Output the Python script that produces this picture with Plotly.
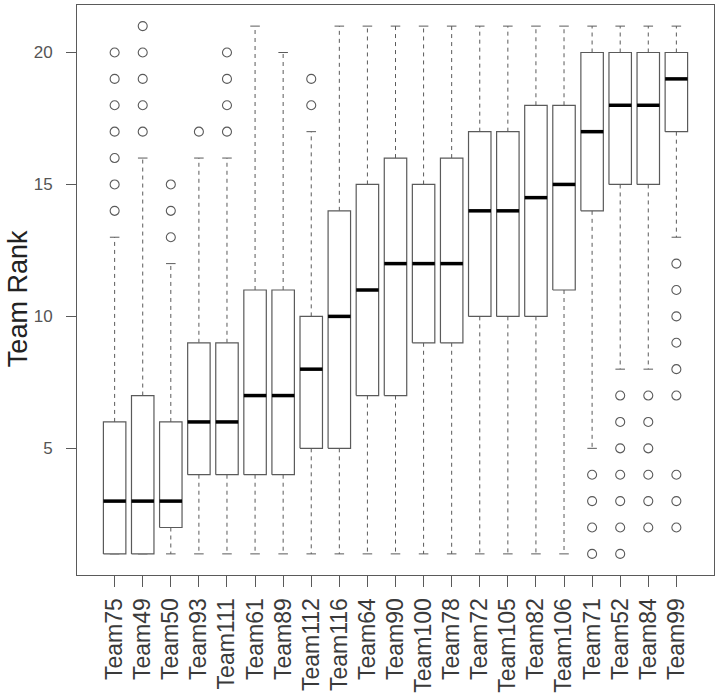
import plotly.graph_objects as go

teams = ["Team75", "Team49", "Team50", "Team93", "Team111", "Team61", "Team89",
         "Team112", "Team116", "Team64", "Team90", "Team100", "Team78", "Team72",
         "Team105", "Team82", "Team106", "Team71", "Team52", "Team84", "Team99"]
lower_whisker = [1, 1, 1, 1, 1, 1, 1, 1, 1, 1, 1, 1, 1, 1, 1, 1, 1, 5, 8, 8, 13]
q1 = [1, 1, 2, 4, 4, 4, 4, 5, 5, 7, 7, 9, 9, 10, 10, 10, 11, 14, 15, 15, 17]
median = [3, 3, 3, 6, 6, 7, 7, 8, 10, 11, 12, 12, 12, 14, 14, 14.5, 15, 17, 18, 18, 19]
q3 = [6, 7, 6, 9, 9, 11, 11, 10, 14, 15, 16, 15, 16, 17, 17, 18, 18, 20, 20, 20, 20]
upper_whisker = [13, 16, 12, 16, 16, 21, 20, 17, 21, 21, 21, 21, 21, 21, 21, 21, 21, 21, 21, 21, 21]
outliers = [
    [14, 15, 16, 17, 18, 19, 20],
    [17, 18, 19, 20, 21],
    [13, 14, 15],
    [17],
    [17, 18, 19, 20],
    [], [],
    [18, 19],
    [], [], [], [], [], [], [], [], [],
    [1, 2, 3, 4],
    [1, 2, 3, 4, 5, 6, 7],
    [2, 3, 4, 5, 6, 7],
    [2, 3, 4, 7, 8, 9, 10, 11, 12],
]

y_ticks = [5, 10, 15, 20]

BOX_HALF = 0.4
STAPLE_HALF = 0.17
GRAY = "#5a5a5a"

pos = list(range(1, len(teams) + 1))

bx, by = [], []
wx, wy = [], []
sx, sy = [], []
mx, my = [], []
ox, oy = [], []
for i, p in enumerate(pos):
    bx += [p - BOX_HALF, p + BOX_HALF, p + BOX_HALF, p - BOX_HALF, p - BOX_HALF, None]
    by += [q1[i], q1[i], q3[i], q3[i], q1[i], None]
    if upper_whisker[i] > q3[i]:
        wx += [p, p, None]
        wy += [q3[i], upper_whisker[i], None]
    if lower_whisker[i] < q1[i]:
        wx += [p, p, None]
        wy += [q1[i], lower_whisker[i], None]
    for v in (upper_whisker[i], lower_whisker[i]):
        sx += [p - STAPLE_HALF, p + STAPLE_HALF, None]
        sy += [v, v, None]
    mx += [p - BOX_HALF, p + BOX_HALF, None]
    my += [median[i], median[i], None]
    for v in outliers[i]:
        ox.append(p)
        oy.append(v)

fig = go.Figure()
fig.add_trace(go.Scatter(x=wx, y=wy, mode="lines",
                         line=dict(color=GRAY, width=1, dash="4px,4px"),
                         hoverinfo="skip", showlegend=False))
fig.add_trace(go.Scatter(x=sx, y=sy, mode="lines",
                         line=dict(color=GRAY, width=1),
                         hoverinfo="skip", showlegend=False))
fig.add_trace(go.Scatter(x=bx, y=by, mode="lines", fill="toself", fillcolor="white",
                         line=dict(color=GRAY, width=1.2),
                         hoverinfo="skip", showlegend=False))
fig.add_trace(go.Scatter(x=mx, y=my, mode="lines",
                         line=dict(color="black", width=3.5),
                         hoverinfo="skip", showlegend=False))
fig.add_trace(go.Scatter(x=ox, y=oy, mode="markers",
                         marker=dict(symbol="circle-open", size=9,
                                     line=dict(color=GRAY, width=1.1), color=GRAY),
                         showlegend=False))

n = len(teams)
xpad = 0.04 * n
fig.update_layout(
    width=720, height=695,
    margin=dict(l=77, r=6, t=5, b=120, autoexpand=False),
    paper_bgcolor="white", plot_bgcolor="white",
    font=dict(family="Liberation Sans, Arial, sans-serif", color="#3a3a3a"),
    xaxis=dict(range=[0.5 - xpad, n + 0.5 + xpad], tickmode="array",
               tickvals=pos, ticktext=teams, tickangle=-90,
               tickfont=dict(size=23, color="#3a3a3a"),
               ticks="outside", ticklen=11, tickcolor=GRAY, tickwidth=1,
               showline=True, linecolor=GRAY, linewidth=1, mirror=True,
               showgrid=False, zeroline=False, ticklabelstandoff=2,
               automargin=False),
    yaxis=dict(range=[0.2, 21.8], tickmode="array", tickvals=y_ticks,
               ticktext=[str(v) for v in y_ticks],
               tickfont=dict(size=17, color="#555555"),
               ticks="outside", ticklen=10, tickcolor=GRAY, tickwidth=1,
               showline=True, linecolor=GRAY, linewidth=1, mirror=True,
               showgrid=False, zeroline=False, ticklabelstandoff=10,
               automargin=False),
    annotations=[dict(text="Team Rank", textangle=-90, xref="paper", yref="paper",
                      x=-0.0926, y=0.484, xanchor="center", yanchor="middle",
                      showarrow=False, font=dict(size=27, color="#222222"))],
)

fig.write_html("out.html", config={"displayModeBar": False},
               post_script="document.body.style.margin='0';document.body.style.overflow='hidden';")
